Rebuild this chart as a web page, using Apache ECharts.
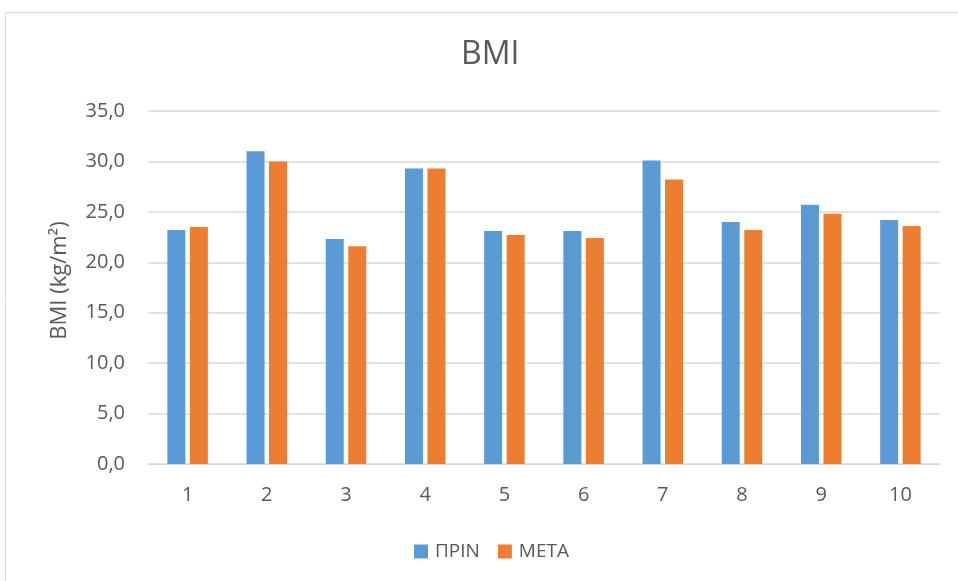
<!DOCTYPE html>
<html>
<head>
<meta charset="utf-8">
<script src="https://cdn.jsdelivr.net/npm/echarts@6/dist/echarts.min.js"></script>
<style>
  html, body { margin: 0; padding: 0; background: #fff; }
  #chart { width: 958px; height: 581px; }
</style>
</head>
<body>
<div id="chart"></div>
<script>
// Participants 1–10, BMI before and after
const categories = ['1', '2', '3', '4', '5', '6', '7', '8', '9', '10'];
const before = [23.2, 31.0, 22.3, 29.3, 23.1, 23.1, 30.1, 24.0, 25.7, 24.2];
const after  = [23.5, 30.0, 21.6, 29.3, 22.7, 22.4, 28.2, 23.2, 24.8, 23.6];
const yTicks = { min: 0, max: 35, interval: 5 };

const FONT = '"Open Sans", "Noto Sans", sans-serif';
const TEXT = '#595959';

const chart = echarts.init(document.getElementById('chart'));
chart.setOption({
  animation: false,
  textStyle: { fontFamily: FONT },
  graphic: [{
    type: 'rect',
    shape: { x: 5.5, y: 12.5, width: 980, height: 580 },
    style: { fill: 'none', stroke: '#d9d9d9', lineWidth: 1 },
    silent: true
  }],
  title: {
    text: 'BMI',
    left: 456,
    top: 34,
    textStyle: { fontFamily: FONT, fontSize: 32, fontWeight: 'normal', color: TEXT }
  },
  legend: {
    top: 537,
    left: 409,
    itemWidth: 14,
    itemHeight: 14,
    itemGap: 18,
    icon: 'rect',
    textStyle: { fontFamily: FONT, fontSize: 19, color: TEXT, padding: [0, 0, 0, 2] }
  },
  grid: { left: 148, right: 18, top: 111, bottom: 117 },
  xAxis: {
    type: 'category',
    data: categories,
    axisLine: { lineStyle: { color: '#d9d9d9', width: 1 } },
    axisTick: { show: false },
    axisLabel: { fontFamily: FONT, fontSize: 20, color: TEXT, margin: 21 }
  },
  yAxis: {
    type: 'value',
    min: yTicks.min,
    max: yTicks.max,
    interval: yTicks.interval,
    name: 'BMI (kg/m²)',
    nameLocation: 'middle',
    nameGap: 77,
    nameTextStyle: { fontFamily: FONT, fontSize: 22, color: TEXT, padding: [0, 0, 0, 14] },
    axisLine: { show: false },
    axisTick: { show: false },
    axisLabel: {
      fontFamily: FONT, fontSize: 20, color: TEXT, margin: 23,
      formatter: v => v.toFixed(1).replace('.', ',')
    },
    splitLine: { lineStyle: { color: '#d9d9d9', width: 1.5 } }
  },
  series: [
    {
      name: 'ΠΡΙΝ', type: 'bar', data: before,
      barWidth: 18, barGap: '25%',
      itemStyle: { color: '#5B9BD5' }
    },
    {
      name: 'ΜΕΤΑ', type: 'bar', data: after,
      barWidth: 18,
      itemStyle: { color: '#ED7D31' }
    }
  ]
});
</script>
</body>
</html>
